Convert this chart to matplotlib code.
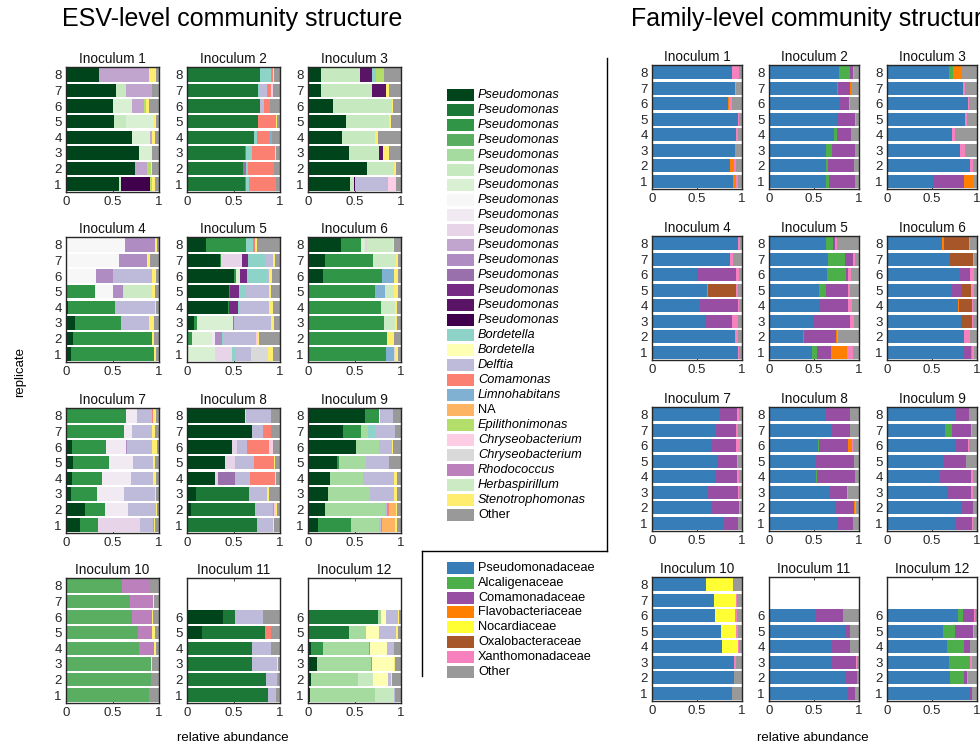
import numpy as np
import matplotlib
matplotlib.use('Agg')
import matplotlib.pyplot as plt
from matplotlib.patches import Rectangle

plt.rcParams['font.family'] = ['Liberation Sans', 'DejaVu Sans']

# ESV taxa in stacking / legend order
esv_keys = ['p%d' % i for i in range(1, 17)] + [
    'bo1', 'bo2', 'de', 'co', 'li', 'na', 'ep', 'ch1', 'ch2', 'rh', 'he', 'st']
esv_labels = ['Pseudomonas'] * 16 + [
    'Bordetella', 'Bordetella', 'Delftia', 'Comamonas', 'Limnohabitans', 'NA',
    'Epilithonimonas', 'Chryseobacterium', 'Chryseobacterium', 'Rhodococcus',
    'Herbaspirillum', 'Stenotrophomonas', 'Other']
esv_colors = [
    '#00441b', '#1b7837', '#319547', '#5aae61', '#a6dba0', '#c7e9c0', '#d9f0d3',
    '#f7f7f7', '#f2eaf2', '#e7d4e8', '#c2a5cf', '#af8dc3', '#9970ab', '#762a83',
    '#5a1466', '#40004b',
    '#8dd3c7', '#ffffb3', '#bebada', '#fb8072', '#80b1d3', '#fdb462', '#b3de69',
    '#fccde5', '#d9d9d9', '#bc80bd', '#ccebc5', '#ffed6f', '#999999']

family_labels = ['Pseudomonadaceae', 'Alcaligenaceae', 'Comamonadaceae',
                 'Flavobacteriaceae', 'Nocardiaceae', 'Oxalobacteraceae',
                 'Xanthomonadaceae', 'Other']
family_colors = ['#377eb8', '#4daf4a', '#984ea3', '#ff7f00', '#ffff33',
                 '#a65628', '#f781bf', '#999999']
# genus -> family index
esv_family = dict([('p%d' % i, 0) for i in range(1, 17)] + [
    ('bo1', 1), ('bo2', 1), ('de', 2), ('co', 2), ('li', 2), ('na', 2),
    ('ep', 3), ('ch1', 3), ('ch2', 3), ('rh', 4), ('he', 5), ('st', 6)])

# relative abundance per replicate (replicate 1 first); remainder is "Other"
inoc1 = [
    [('p1', .57), ('p6', .02), ('p16', .31), ('ep', .03), ('st', .03)],
    [('p1', .74), ('p11', .13), ('ep', .04), ('st', .02)],
    [('p1', .78), ('p7', .14), ('st', .005)],
    [('p1', .71), ('p7', .19), ('p11', .03), ('st', .03)],
    [('p1', .52), ('p6', .12), ('p7', .31), ('st', .02)],
    [('p1', .51), ('p7', .20), ('p11', .13), ('ep', .02), ('st', .03)],
    [('p1', .54), ('p6', .10), ('p11', .28), ('st', .01)],
    [('p1', .35), ('p7', .01), ('p11', .53), ('st', .08)],
]
inoc2 = [
    [('p2', .62), ('p13', .01), ('bo1', .04), ('co', .29)],
    [('p2', .60), ('p13', .03), ('bo1', .03), ('co', .28)],
    [('p2', .62), ('p13', .01), ('bo1', .07), ('co', .25), ('st', .005)],
    [('p1', .01), ('p2', .71), ('bo1', .03), ('li', .02), ('co', .14)],
    [('p2', .76), ('co', .20), ('st', .005)],
    [('p2', .79), ('de', .04), ('co', .06), ('st', .005)],
    [('p2', .76), ('bo1', .01), ('de', .09), ('co', .04), ('ch1', .02)],
    [('p2', .78), ('bo1', .12), ('co', .03), ('st', .01)],
]
inoc3 = [
    [('p1', .45), ('p6', .04), ('p16', .02), ('de', .35), ('ch1', .09)],
    [('p1', .63), ('p6', .29), ('st', .03)],
    [('p1', .44), ('p6', .32), ('p15', .05), ('st', .06)],
    [('p1', .37), ('p6', .35), ('st', .03)],
    [('p1', .41), ('p6', .46), ('st', .02)],
    [('p1', .27), ('p6', .63), ('st', .01)],
    [('p1', .14), ('p6', .55), ('p15', .15), ('st', .03)],
    [('p1', .14), ('p6', .42), ('p15', .13), ('bo1', .04), ('ep', .09)],
]
inoc4 = [
    [('p1', .05), ('p3', .90), ('st', .02)],
    [('p1', .07), ('p3', .85), ('st', .03)],
    [('p1', .10), ('p3', .49), ('de', .30), ('st', .06)],
    [('p1', .02), ('p3', .51), ('de', .43), ('st', .01)],
    [('p3', .31), ('p8', .20), ('p12', .10), ('ch2', .01), ('he', .31), ('st', .03)],
    [('p8', .32), ('p12', .18), ('de', .43), ('st', .04)],
    [('p8', .57), ('p12', .30), ('st', .03)],
    [('p8', .63), ('p12', .33), ('st', .02)],
]
inoc5 = [
    [('p7', .30), ('p10', .18), ('bo1', .05), ('de', .16), ('ch2', .18), ('st', .06)],
    [('p3', .05), ('p7', .22), ('p9', .03), ('p12', .08), ('bo1', .01), ('de', .35),
     ('ch1', .02), ('st', .01)],
    [('p1', .08), ('p3', .03), ('p7', .38), ('p13', .01), ('de', .40), ('st', .04)],
    [('p1', .44), ('p3', .01), ('p14', .10), ('bo1', .01), ('de', .32), ('st', .04)],
    [('p1', .45), ('p3', .01), ('p14', .10), ('bo1', .07), ('de', .25), ('st', .02)],
    [('p1', .51), ('p3', .02), ('p7', .04), ('p14', .07), ('bo1', .22), ('de', .02),
     ('st', .03)],
    [('p1', .35), ('p3', .02), ('p10', .22), ('p14', .07), ('bo1', .18), ('de', .09),
     ('st', .02)],
    [('p1', .20), ('p3', .43), ('bo1', .08), ('co', .02), ('st', .02)],
]
inoc6 = [
    [('p3', .84), ('ch2', .01), ('li', .09), ('st', .03)],
    [('p3', .85), ('st', .07)],
    [('p3', .82), ('he', .12), ('st', .02)],
    [('p3', .79), ('ch2', .01), ('he', .14), ('st', .02)],
    [('p3', .72), ('li', .11), ('he', .10), ('st', .04)],
    [('p1', .16), ('p3', .64), ('li', .12), ('st', .05)],
    [('p1', .18), ('p3', .52), ('he', .25), ('st', .02)],
    [('p1', .36), ('p3', .21), ('p7', .04), ('ch2', .02), ('he', .28), ('st', .01)],
]
inoc7 = [
    [('p1', .155), ('p3', .185), ('p10', .46), ('de', .14), ('li', .01), ('st', .01)],
    [('p1', .20), ('p3', .22), ('p9', .25), ('de', .30), ('st', .01)],
    [('p1', .05), ('p3', .28), ('p9', .29), ('de', .34), ('st', .01)],
    [('p1', .06), ('p3', .33), ('p9', .31), ('de', .24), ('st', .03)],
    [('p1', .08), ('p3', .38), ('p9', .26), ('de', .22), ('st', .02)],
    [('p1', .06), ('p3', .37), ('p9', .22), ('p12', .01), ('de', .27), ('st', .05)],
    [('p1', .01), ('p3', .61), ('p9', .09), ('de', .21), ('co', .01), ('st', .03)],
    [('p3', .64), ('p9', .12), ('de', .17), ('co', .01), ('st', .03)],
]
inoc8 = [
    [('p2', .755), ('bo1', .005), ('de', .17), ('st', .005)],
    [('p1', .04), ('p2', .69), ('de', .20), ('co', .01), ('ch1', .02), ('st', .01)],
    [('p1', .10), ('p2', .565), ('de', .20), ('st', .015)],
    [('p1', .30), ('p10', .03), ('p13', .19), ('bo1', .01), ('de', .15), ('co', .27),
     ('st', .005)],
    [('p1', .41), ('p10', .11), ('de', .20), ('co', .22), ('st', .005)],
    [('p1', .48), ('p10', .06), ('bo1', .01), ('st', .01), ('de', .09), ('co', .24),
     ('ch1', .04)],
    [('p1', .70), ('de', .12), ('co', .08), ('st', .005)],
    [('p1', .62), ('p6', .01), ('de', .27), ('st', .005)],
]
inoc9 = [
    [('p1', .11), ('p3', .35), ('p5', .30), ('de', .02), ('co', .02), ('na', .14),
     ('st', .02)],
    [('p1', .185), ('p5', .645), ('de', .02), ('co', .02), ('na', .08), ('st', .01)],
    [('p1', .21), ('p5', .46), ('de', .26), ('st', .03)],
    [('p1', .24), ('p5', .35), ('de', .34), ('st', .03)],
    [('p1', .31), ('p3', .02), ('p5', .29), ('de', .255)],
    [('p1', .52), ('p5', .24), ('de', .14), ('st', .01)],
    [('p1', .375), ('p3', .19), ('p5', .075), ('bo1', .08), ('de', .215), ('st', .005)],
    [('p1', .61), ('p3', .15), ('p8', .01), ('de', .14)],
]
inoc10 = [
    [('p4', .89)],
    [('p4', .91)],
    [('p4', .91), ('st', .02)],
    [('p4', .78), ('rh', .17), ('st', .02)],
    [('p4', .77), ('rh', .16), ('st', .03)],
    [('p4', .705), ('rh', .215), ('st', .02)],
    [('p4', .69), ('rh', .245), ('st', .01)],
    [('p4', .60), ('rh', .30), ('st', .005)],
]
inoc11 = [
    [('p2', .875), ('de', .085)],
    [('p2', .85), ('de', .12), ('co', .005)],
    [('p2', .70), ('de', .27), ('st', .005)],
    [('p2', .70), ('de', .20)],
    [('p1', .16), ('p2', .68), ('co', .06)],
    [('p1', .39), ('p2', .13), ('de', .30)],
]
inoc12 = [
    [('p1', .02), ('p5', .70), ('p6', .20), ('de', .02)],
    [('p1', .03), ('p5', .505), ('p6', .165), ('bo2', .16), ('de', .03), ('st', .01)],
    [('p1', .10), ('p5', .58), ('p12', .01), ('bo2', .23), ('st', .02)],
    [('p1', .03), ('p3', .13), ('p5', .50), ('p12', .01), ('bo2', .18), ('de', .07)],
    [('p2', .44), ('p5', .185), ('bo2', .135), ('de', .19), ('st', .02)],
    [('p2', .75), ('p5', .04), ('bo2', .05), ('de', .13), ('st', .01)],
]
inocula = [inoc1, inoc2, inoc3, inoc4, inoc5, inoc6,
           inoc7, inoc8, inoc9, inoc10, inoc11, inoc12]

W, H = 980, 746


def esv_matrix(reps):
    m = np.zeros((len(reps), len(esv_keys) + 1))
    for r, segs in enumerate(reps):
        for key, val in segs:
            m[r, esv_keys.index(key)] += val
        m[r, -1] = max(0.0, 1.0 - m[r, :-1].sum())
    return m


def family_matrix(reps):
    m = np.zeros((len(reps), len(family_labels)))
    for r, segs in enumerate(reps):
        for key, val in segs:
            m[r, esv_family[key]] += val
        m[r, -1] = max(0.0, 1.0 - m[r, :-1].sum())
    return m


def draw_panel(ax, m, colors, title):
    y = np.arange(1, m.shape[0] + 1)
    left = np.zeros(m.shape[0])
    for j in range(m.shape[1]):
        ax.barh(y, m[:, j], left=left, height=0.86, color=colors[j],
                edgecolor='none', zorder=2)
        left += m[:, j]
    ax.set_xlim(0, 1)
    ax.set_ylim(0.5, 8.5)
    ax.set_xticks([0, 0.5, 1])
    ax.set_xticklabels(['0', '0.5', '1'])
    ax.set_yticks(y)
    ax.tick_params(direction='in', length=2.5, width=0.6, top=True, right=True,
                   labelsize=9.5, color='#262626', labelcolor='#262626', pad=3)
    for s in ax.spines.values():
        s.set_linewidth(1.0)
        s.set_color('#262626')
        s.set_zorder(5)
    ax.set_title(title, fontsize=9.8, pad=3, color='#111111')


fig = plt.figure(figsize=(W / 100, H / 100), dpi=100)

esv_left = [66, 187, 308]
fam_left = [652, 769, 887]
row_top = [67, 237, 408, 578]
fam_top = [65, 236, 407, 577]

for i, reps in enumerate(inocula):
    r, c = divmod(i, 3)
    ax = fig.add_axes([esv_left[c] / W, 1 - (row_top[r] + 125) / H, 93 / W, 125 / H])
    draw_panel(ax, esv_matrix(reps), esv_colors, 'Inoculum %d' % (i + 1))
    ax = fig.add_axes([fam_left[c] / W, 1 - (fam_top[r] + 124) / H, 90 / W, 124 / H])
    draw_panel(ax, family_matrix(reps), family_colors, 'Inoculum %d' % (i + 1))

fig.text(232 / W, 1 - 19 / H, 'ESV-level community structure', ha='center',
         va='center', fontsize=18)
# this title runs past the right edge in the original as well
fig.text(631 / W, 1 - 19 / H, 'Family-level community structure', ha='left',
         va='center', fontsize=18)
fig.text(20 / W, 1 - 372 / H, 'replicate', rotation=90, ha='center', va='center',
         fontsize=9.5)
fig.text(233 / W, 1 - 738 / H, 'relative abundance', ha='center', va='center',
         fontsize=9.5)
fig.text(813 / W, 1 - 738 / H, 'relative abundance', ha='center', va='center',
         fontsize=9.5)

# legends and separator lines, drawn in pixel coordinates
lax = fig.add_axes([0, 0, 1, 1])
lax.set_xlim(0, W)
lax.set_ylim(H, 0)
lax.axis('off')

for k, (lab, col) in enumerate(zip(esv_labels, esv_colors)):
    yc = 95 + 15 * k
    lax.add_patch(Rectangle((447, yc - 6), 27, 12, facecolor=col, edgecolor='none'))
    style = 'normal' if lab in ('NA', 'Other') else 'italic'
    lax.text(478, yc, lab, ha='left', va='center', fontsize=9.2, style=style)

for k, (lab, col) in enumerate(zip(family_labels, family_colors)):
    yc = 568 + 14.8 * k
    lax.add_patch(Rectangle((447, yc - 6), 27, 12, facecolor=col, edgecolor='none'))
    lax.text(478, yc, lab, ha='left', va='center', fontsize=9.2)

lax.plot([607, 607], [58, 551], color='k', lw=1)
lax.plot([422, 607], [551, 551], color='k', lw=1)
lax.plot([422, 422], [551, 676], color='k', lw=1)

fig.savefig('out.png', dpi=100)
